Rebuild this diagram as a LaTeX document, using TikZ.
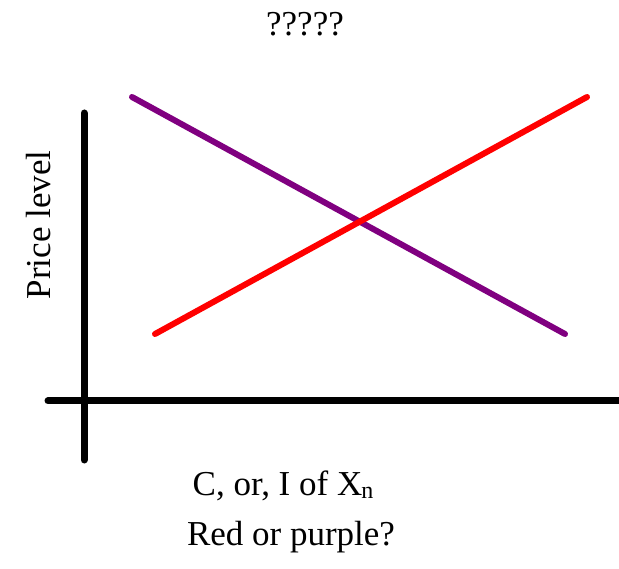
\documentclass[tikz,border=0pt]{standalone}
\usepackage{fontspec}
\setmainfont{Liberation Serif}
\tikzset{
  axis/.style={line width=7pt,line cap=round},
  curve/.style={line width=6pt,line cap=round},
  lbl/.style={font=\fontsize{35}{40}\selectfont,inner sep=0pt,anchor=base}
}
\definecolor{adpurple}{RGB}{128,0,128}
\definecolor{asred}{RGB}{255,0,0}
\begin{document}
\begin{tikzpicture}[x=1pt,y=-1pt]
        \useasboundingbox (0,0) rectangle (619,569);
        % axes
        \draw[axis] (84,113)--(84,460);
        \draw[axis,line cap=butt] (48,401)--(619,401);
        \draw[axis] (48,401)--(60,401);
        % the two lines
        \draw[curve,adpurple] (132,97)--(565,334);
        \draw[curve,asred] (155,334)--(587,97);
        % labels
        \node[lbl] (title) at (305,36) {?????};
        \node[lbl,rotate=90] (ylab) at (50,225) {Price level};
        \node[lbl] (xlab) at (283,496) {C, or, I of X\kern-1pt\raisebox{-2pt}{\fontsize{24}{24}\selectfont n}};
        \node[lbl] (quest) at (291,545) {Red or purple?};
\end{tikzpicture}
\end{document}
